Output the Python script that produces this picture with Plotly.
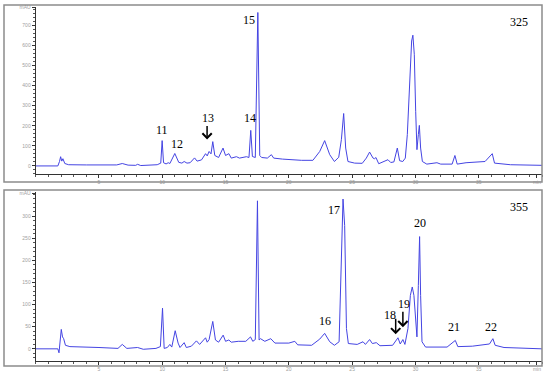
import plotly.graph_objects as go

# ---- data (retention time in min, absorbance in mAU) ----
time_325 = [0, 1.75, 1.88, 1.97, 2.06, 2.15, 2.3, 2.6, 4.0, 6.4,
            6.84, 7.3, 7.9, 8.05, 8.3, 9.0, 9.6, 9.88, 9.99, 10.1,
            10.3, 10.47, 10.6, 10.99, 11.3, 11.55, 11.73, 11.95, 12.2, 12.55,
            12.75, 13.1, 13.42, 13.55, 13.7, 13.85, 13.99, 14.15, 14.45, 14.8,
            15.0, 15.26, 15.45, 15.86, 16.1, 16.65, 16.85, 16.99, 17.12, 17.35,
            17.55, 17.7, 17.85, 18.3, 18.62, 18.8, 19.5, 21.0, 21.9, 22.44,
            22.83, 23.23, 23.6, 23.94, 24.15, 24.33, 24.49, 24.67, 25.2, 25.8,
            26.12, 26.38, 26.65, 26.78, 26.88, 27.1, 27.4, 27.83, 28.05, 28.3,
            28.57, 28.75, 29.0, 29.2, 29.36, 29.54, 29.7, 29.8, 29.91, 30.02,
            30.12, 30.23, 30.31, 30.41, 30.55, 30.9, 31.7, 32.0, 32.9, 33.12,
            33.3, 34.0, 35.5, 36.07, 36.25, 37.5, 39.0, 40.0]
mau_325 = [0, 0, 22, 46, 24, 36, 12, 6, 5, 5,
           12, 4, 3, 8, 2, 3, 6, 14, 126, 16,
           10, 16, 12, 62, 18, 14, 22, 14, 16, 40,
           24, 30, 61, 50, 72, 60, 121, 52, 42, 89,
           52, 61, 39, 46, 39, 46, 42, 177, 47, 42,
           764, 52, 42, 39, 56, 39, 34, 28, 28, 72,
           126, 56, 22, 43, 131, 261, 89, 22, 14, 13,
           39, 69, 39, 36, 42, 11, 18, 31, 17, 20,
           89, 26, 22, 39, 156, 439, 622, 651, 556, 272,
           81, 156, 202, 89, 22, 9, 16, 9, 9, 52,
           9, 16, 22, 61, 14, 6, 4, 3]

time_355 = [0, 1.75, 1.84, 2.02, 2.12, 2.21, 2.35, 2.7, 5.0, 6.5,
            6.84, 7.2, 8.05, 8.5, 9.5, 9.85, 10.02, 10.15, 10.4, 10.6,
            10.75, 11.02, 11.25, 11.4, 11.73, 11.9, 12.3, 12.7, 12.95, 13.42,
            13.55, 13.7, 13.99, 14.2, 14.45, 14.81, 15.0, 15.26, 15.45, 16.0,
            16.6, 16.97, 17.15, 17.35, 17.52, 17.65, 17.76, 18.1, 18.57, 18.9,
            20.0, 20.47, 20.7, 21.8, 22.44, 22.83, 23.23, 23.6, 23.97, 24.12,
            24.28, 24.41, 24.55, 24.7, 25.4, 25.86, 26.05, 26.38, 26.6, 26.91,
            27.2, 28.2, 28.62, 28.8, 29.01, 29.17, 29.41, 29.6, 29.75, 29.88,
            30.02, 30.12, 30.23, 30.33, 30.41, 30.52, 30.8, 32.5, 33.15, 33.35,
            34.5, 35.5, 35.85, 36.12, 36.3, 37.0, 39.0, 40.0]
mau_355 = [0, 0, -9, 44, 27, 23, 8, 5, 3, 1,
           10, 1, 3, -1, 1, 5, 92, 1, 3, 10,
           4, 41, 13, 3, 14, 3, 6, 18, 10, 25,
           15, 21, 62, 20, 15, 31, 17, 20, 15, 17,
           17, 27, 17, 21, 335, 20, 23, 17, 23, 13,
           13, 17, 9, 8, 22, 35, 16, 8, 16, 158,
           339, 279, 46, 12, 10, 16, 10, 21, 12, 14,
           7, 8, 25, 11, 21, 10, 46, 121, 140, 121,
           53, 27, 143, 254, 121, 16, 4, 4, 19, 5,
           6, 10, 11, 23, 8, 3, 1, 0]

# peak labels: (text, time, mAU)
labels_325 = [("11", 9.99, 181), ("12", 11.15, 109), ("13", 13.58, 239),
              ("14", 16.91, 239), ("15", 16.86, 726)]
labels_355 = [("16", 22.89, 63), ("17", 23.54, 315), ("18", 27.96, 77),
              ("19", 29.07, 101), ("20", 30.33, 285), ("21", 33.04, 50),
              ("22", 35.94, 50)]
# arrows: (time, tip mAU, length px)
arrows_325 = [(13.54, 132, 15)]
arrows_355 = [(28.44, 33, 17), (29.01, 49, 17)]

x_ticks = [5, 10, 15, 20, 25, 30, 35]
y_ticks_325 = [0, 100, 200, 300, 400, 500, 600, 700]
y_ticks_355 = [0, 50, 100, 150, 200, 250, 300]

W, H = 550, 372
LINE = "#4444e2"
SERIF = "Liberation Serif, Times New Roman, serif"


def fy(y):
    return 1 - y / H


fig = go.Figure()
fig.add_trace(go.Scatter(x=time_325, y=mau_325, mode="lines",
                         line=dict(color=LINE, width=1), xaxis="x", yaxis="y"))
fig.add_trace(go.Scatter(x=time_355, y=mau_355, mode="lines",
                         line=dict(color=LINE, width=1), xaxis="x2", yaxis="y2"))

tickfont = dict(size=5, color="#a0a0a0", family="Arial, sans-serif")
xcommon = dict(range=[0, 40], domain=[35.7 / W, 542 / W], showgrid=False,
               zeroline=False, showline=True, linecolor="#333", linewidth=1,
               ticks="outside", ticklen=3, tickcolor="#333", tickfont=tickfont,
               tickvals=x_ticks + [39.6],
               ticktext=[str(v) for v in x_ticks] + ["min"],
               minor=dict(tickmode="linear", tick0=0, dtick=1, ticks="outside",
                          ticklen=2, tickcolor="#555"))
ycommon = dict(showgrid=False, zeroline=False, showline=True, linecolor="#333",
               linewidth=1, ticks="outside", ticklen=3, tickcolor="#333",
               tickfont=tickfont)

fig.update_layout(
    width=W, height=H, margin=dict(l=0, r=0, t=0, b=0),
    paper_bgcolor="white", plot_bgcolor="white", showlegend=False,
    xaxis=dict(xcommon, anchor="y"),
    yaxis=dict(ycommon, anchor="x", range=[-42, 793],
               domain=[fy(173.3), fy(4.7)],
               tickvals=y_ticks_325 + [788],
               ticktext=[str(v) for v in y_ticks_325] + ["mAU"],
               minor=dict(tickmode="linear", tick0=0, dtick=20, ticks="outside",
                          ticklen=2, tickcolor="#555")),
    xaxis2=dict(xcommon, anchor="y2"),
    yaxis2=dict(ycommon, anchor="x2", range=[-27, 355],
                domain=[fy(360.7), fy(191)],
                tickvals=y_ticks_355 + [351],
                ticktext=[str(v) for v in y_ticks_355] + ["mAU"],
                minor=dict(tickmode="linear", tick0=0, dtick=10, ticks="outside",
                           ticklen=2, tickcolor="#555")),
)

# panel frames
for y0, y1 in [(3, 181), (189, 366)]:
    fig.add_shape(type="rect", xref="paper", yref="paper",
                  x0=4 / W, x1=542 / W, y0=fy(y1), y1=fy(y0),
                  line=dict(color="#8c8c8c", width=1.5))

annots = []
for labels, xr, yr in [(labels_325, "x", "y"), (labels_355, "x2", "y2")]:
    for txt, t, v in labels:
        annots.append(dict(text=txt, x=t, y=v, xref=xr, yref=yr, showarrow=False,
                           font=dict(family=SERIF, size=12, color="black")))
for arrows, xr, yr in [(arrows_325, "x", "y"), (arrows_355, "x2", "y2")]:
    for t, v, ln in arrows:
        annots.append(dict(text="", x=t, y=v, xref=xr, yref=yr, showarrow=True,
                           ax=0, ay=-ln, arrowhead=4, arrowsize=1.2,
                           arrowwidth=1.5, arrowcolor="black"))
annots.append(dict(text="325", x=38.15, y=719, xref="x", yref="y", showarrow=False,
                   font=dict(family=SERIF, size=12, color="black")))
annots.append(dict(text="355", x=38.15, y=322, xref="x2", yref="y2",
                   showarrow=False,
                   font=dict(family=SERIF, size=12, color="black")))
fig.update_layout(annotations=annots)

# the page's default body margin would push the 550x372 figure off-window
fig.write_html("out.html", config={"displayModeBar": False},
               post_script="document.body.style.margin='0';"
                           "document.body.style.overflow='hidden';")
